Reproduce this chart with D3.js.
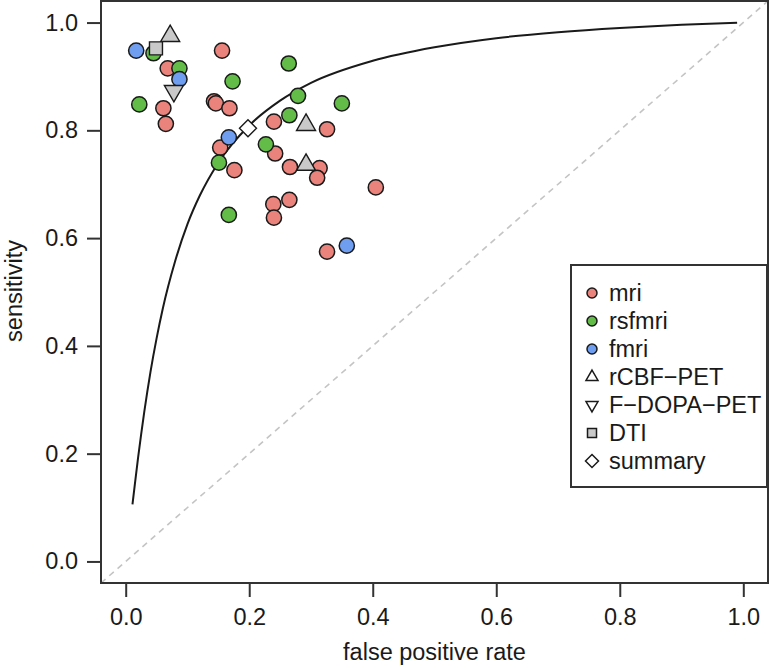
<!DOCTYPE html>
<html>
<head>
<meta charset="utf-8">
<script src="https://cdn.jsdelivr.net/npm/d3@7/dist/d3.min.js"></script>
<style>
  html, body { margin: 0; padding: 0; background: #fff; }
  svg { display: block; }
  text { font-family: "Liberation Sans", Arial, Helvetica, sans-serif; fill: #1a1a1a; }
</style>
</head>
<body>
<svg id="chart" width="770" height="668"></svg>
<script>
// ---- data (false positive rate, sensitivity) ----
const mriFpr   = [0.156, 0.068, 0.061, 0.065, 0.143, 0.146, 0.168, 0.240, 0.326, 0.153, 0.242, 0.176, 0.266, 0.314, 0.310, 0.405, 0.239, 0.265, 0.240, 0.326];
const mriSens  = [0.948, 0.915, 0.841, 0.812, 0.854, 0.850, 0.841, 0.816, 0.802, 0.768, 0.757, 0.726, 0.732, 0.730, 0.712, 0.694, 0.663, 0.671, 0.638, 0.575];
const rsfFpr   = [0.045, 0.264, 0.087, 0.173, 0.279, 0.350, 0.022, 0.265, 0.227, 0.151, 0.167];
const rsfSens  = [0.943, 0.924, 0.915, 0.891, 0.864, 0.850, 0.848, 0.828, 0.774, 0.740, 0.643];
const fmriFpr  = [0.017, 0.087, 0.167, 0.358];
const fmriSens = [0.948, 0.895, 0.787, 0.586];
const rcbfFpr  = [0.072, 0.292, 0.292];
const rcbfSens = [0.975, 0.810, 0.736];
const dopaFpr  = [0.078];
const dopaSens = [0.873];
const dtiFpr   = [0.049];
const dtiSens  = [0.952];
const summaryFpr  = [0.198];
const summarySens = [0.804];
// SROC curve points
const curveFpr  = [0.011, 0.015, 0.020, 0.025, 0.030, 0.040, 0.050, 0.060, 0.080, 0.100, 0.120, 0.150, 0.200, 0.250, 0.300, 0.400, 0.500, 0.600, 0.700, 0.800, 0.900, 0.990];
const curveSens = [0.106, 0.145, 0.192, 0.236, 0.277, 0.351, 0.414, 0.469, 0.557, 0.626, 0.679, 0.740, 0.809, 0.855, 0.888, 0.929, 0.954, 0.971, 0.982, 0.990, 0.996, 0.9998];
const xTicks = [0, 0.2, 0.4, 0.6, 0.8, 1.0];
const yTicks = [0, 0.2, 0.4, 0.6, 0.8, 1.0];
const legendLabels = ["mri", "rsfmri", "fmri", "rCBF\u2212PET", "F\u2212DOPA\u2212PET", "DTI", "summary"];

// ---- styles ----
const colMri = "#E9837B", colRsf = "#63BC48", colFmri = "#6F9DF0", colGray = "#C9C9C9";
const FS = 23.5;

const svg = d3.select("#chart");
const x = d3.scaleLinear().domain([-0.04, 1.04]).range([101, 768]);
const y = d3.scaleLinear().domain([-0.04, 1.04]).range([583, 1]);

svg.append("defs").append("clipPath").attr("id", "plotclip")
  .append("rect").attr("x", x(-0.04)).attr("y", y(1.04))
  .attr("width", x(1.04) - x(-0.04)).attr("height", y(-0.04) - y(1.04));

const plot = svg.append("g").attr("clip-path", "url(#plotclip)");

// diagonal reference line
plot.append("line")
  .attr("x1", x(-0.04)).attr("y1", y(-0.04))
  .attr("x2", x(1.04)).attr("y2", y(1.04))
  .attr("stroke", "#c4c4c4").attr("stroke-width", 1.6)
  .attr("stroke-dasharray", "6,5");

// SROC curve
const curveData = curveFpr.map((f, i) => [f, curveSens[i]]);
plot.append("path")
  .datum(curveData)
  .attr("fill", "none").attr("stroke", "#1a1a1a").attr("stroke-width", 2)
  .attr("d", d3.line().x(d => x(d[0])).y(d => y(d[1])).curve(d3.curveMonotoneX));

function pts(fpr, sens) { return fpr.map((f, i) => [f, sens[i]]); }

function circles(data, color) {
  plot.append("g").selectAll("circle").data(data).join("circle")
    .attr("cx", d => x(d[0])).attr("cy", d => y(d[1])).attr("r", 7.6)
    .attr("fill", color).attr("stroke", "#1a1a1a").attr("stroke-width", 1.5);
}
function shapes(data, pathFn, fill) {
  plot.append("g").selectAll("path").data(data).join("path")
    .attr("transform", d => `translate(${x(d[0])},${y(d[1])})`)
    .attr("d", pathFn)
    .attr("fill", fill).attr("stroke", "#1a1a1a").attr("stroke-width", 1.4)
    .attr("stroke-linejoin", "miter");
}
function triUp(s) { const h = s * Math.sqrt(3) / 2; return `M0,${-h * 2 / 3}L${s / 2},${h / 3}L${-s / 2},${h / 3}Z`; }
function triDown(s) { const h = s * Math.sqrt(3) / 2; return `M0,${h * 2 / 3}L${s / 2},${-h / 3}L${-s / 2},${-h / 3}Z`; }
function square(s) { return `M${-s / 2},${-s / 2}H${s / 2}V${s / 2}H${-s / 2}Z`; }
function diamond(r) { return `M0,${-r}L${r},0L0,${r}L${-r},0Z`; }

circles(pts(mriFpr, mriSens), colMri);
circles(pts(rsfFpr, rsfSens), colRsf);
circles(pts(fmriFpr, fmriSens), colFmri);
shapes(pts(rcbfFpr, rcbfSens), () => triUp(19), colGray);
shapes(pts(dopaFpr, dopaSens), () => triDown(19), colGray);
shapes(pts(dtiFpr, dtiSens), () => square(13), colGray);
shapes(pts(summaryFpr, summarySens), () => diamond(8.5), "#ffffff");

// axes
const fmt = d3.format(".1f");
const xAxis = svg.append("g").attr("transform", `translate(0,${y(-0.04)})`)
  .call(d3.axisBottom(x).tickValues(xTicks).tickFormat(fmt).tickSize(14).tickSizeOuter(0).tickPadding(11));
const yAxis = svg.append("g").attr("transform", `translate(${x(-0.04)},0)`)
  .call(d3.axisLeft(y).tickValues(yTicks).tickFormat(fmt).tickSize(14).tickSizeOuter(0).tickPadding(9));
[xAxis, yAxis].forEach(a => {
  a.select(".domain").remove();
  a.selectAll(".tick line").attr("stroke", "#333").attr("stroke-width", 2);
  a.selectAll(".tick text").attr("font-size", FS).attr("fill", "#1a1a1a")
    .attr("font-family", "'Liberation Sans', Arial, Helvetica, sans-serif");
});

// box
svg.append("rect")
  .attr("x", x(-0.04)).attr("y", y(1.04))
  .attr("width", x(1.04) - x(-0.04)).attr("height", y(-0.04) - y(1.04))
  .attr("fill", "none").attr("stroke", "#333").attr("stroke-width", 2);

// axis titles
svg.append("text").attr("x", (x(-0.04) + x(1.04)) / 2).attr("y", 652).attr("dy", "0.35em")
  .attr("text-anchor", "middle").attr("font-size", FS).text("false positive rate");
svg.append("text").attr("transform", "translate(14,291) rotate(-90)").attr("dy", "0.35em")
  .attr("text-anchor", "middle").attr("font-size", FS).text("sensitivity");

// legend
const leg = svg.append("g");
leg.append("rect").attr("x", 571).attr("y", 265).attr("width", 196).attr("height", 222)
  .attr("fill", "#fff").attr("stroke", "#333").attr("stroke-width", 2);
const legY0 = 293, legStep = 28, legSymX = 592, legTxtX = 609;
const legendSyms = [
  g => g.append("circle").attr("r", 5).attr("fill", colMri),
  g => g.append("circle").attr("r", 5).attr("fill", colRsf),
  g => g.append("circle").attr("r", 5).attr("fill", colFmri),
  g => g.append("path").attr("d", triUp(12)).attr("fill", "#fff"),
  g => g.append("path").attr("d", triDown(12)).attr("fill", "#fff"),
  g => g.append("path").attr("d", square(9)).attr("fill", colGray),
  g => g.append("path").attr("d", diamond(6.5)).attr("fill", "#fff")
];
legendLabels.forEach((lab, i) => {
  const g = leg.append("g").attr("transform", `translate(${legSymX},${legY0 + i * legStep})`);
  const s = legendSyms[i](g);
  s.attr("stroke", "#1a1a1a").attr("stroke-width", 1.5);
  leg.append("text").attr("x", legTxtX).attr("y", legY0 + i * legStep).attr("dy", "0.35em")
    .attr("font-size", FS).text(lab);
});
</script>
</body>
</html>
